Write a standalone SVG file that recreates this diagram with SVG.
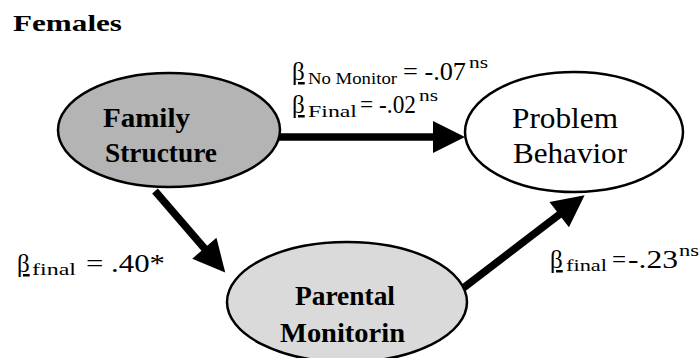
<svg xmlns="http://www.w3.org/2000/svg" width="700" height="358" viewBox="0 0 700 358">
<defs>
<marker id="ah" markerUnits="userSpaceOnUse" markerWidth="34" markerHeight="34" refX="1" refY="16" orient="auto" overflow="visible">
<path d="M0,0 L32,16 L0,32 Z" fill="#000"/>
</marker>
</defs>
<rect width="700" height="358" fill="#fff"/>
<text x="13" y="31" font-family="Liberation Serif" font-size="24" font-weight="bold" textLength="109" lengthAdjust="spacingAndGlyphs">Females</text>
<g id="connectors" stroke="#000" stroke-width="7.5" fill="none" marker-end="url(#ah)">
<line x1="279" y1="137" x2="434" y2="137"/>
<line x1="155" y1="191" x2="205" y2="249"/>
<line x1="462" y1="289" x2="560" y2="214"/>
</g>
<g id="family-structure" font-family="Liberation Serif" font-size="28" font-weight="bold">
<ellipse cx="169" cy="130" rx="111" ry="57" fill="#b4b4b4" stroke="#000" stroke-width="2.5"/>
<text x="103" y="127" textLength="87" lengthAdjust="spacingAndGlyphs">Family</text>
<text x="105" y="162" textLength="112" lengthAdjust="spacingAndGlyphs">Structure</text>
</g>
<g id="problem-behavior" font-family="Liberation Serif" font-size="30">
<ellipse cx="574" cy="132" rx="109" ry="60" fill="#fff" stroke="#000" stroke-width="2.5"/>
<text x="512" y="128" textLength="106" lengthAdjust="spacingAndGlyphs">Problem</text>
<text x="513" y="163" textLength="114" lengthAdjust="spacingAndGlyphs">Behavior</text>
</g>
<g id="parental-monitoring" font-family="Liberation Serif" font-size="28" font-weight="bold">
<ellipse cx="347" cy="302" rx="120" ry="60" fill="#dadada" stroke="#000" stroke-width="2.5"/>
<text x="295" y="305" textLength="100" lengthAdjust="spacingAndGlyphs">Parental</text>
<text x="280" y="342" textLength="125" lengthAdjust="spacingAndGlyphs">Monitorin</text>
</g>
<g id="labels" font-family="Liberation Serif" font-size="25">
<text x="292" y="80" text-decoration="underline">β</text>
<text x="308" y="84" font-size="17" textLength="89" lengthAdjust="spacingAndGlyphs">No Monitor</text>
<text x="403" y="80" textLength="63" lengthAdjust="spacingAndGlyphs">= -.07</text>
<text x="469" y="68" font-size="16" textLength="19" lengthAdjust="spacingAndGlyphs">ns</text>
<text x="292" y="113" text-decoration="underline">β</text>
<text x="308" y="117" font-size="17" textLength="49" lengthAdjust="spacingAndGlyphs">Final</text>
<text x="360" y="113" textLength="56" lengthAdjust="spacingAndGlyphs">= -.02</text>
<text x="419" y="101" font-size="16" textLength="19" lengthAdjust="spacingAndGlyphs">ns</text>
<text x="17" y="272" text-decoration="underline">β</text>
<text x="32" y="275" font-size="17" textLength="44" lengthAdjust="spacingAndGlyphs">final</text>
<text x="86" y="272" textLength="79" lengthAdjust="spacingAndGlyphs">= .40*</text>
<text x="550" y="268" text-decoration="underline">β</text>
<text x="566" y="271" font-size="17" textLength="41" lengthAdjust="spacingAndGlyphs">final</text>
<text x="612" y="268">=</text>
<text x="628" y="268" textLength="50" lengthAdjust="spacingAndGlyphs">-.23</text>
<text x="679" y="256" font-size="16" textLength="20" lengthAdjust="spacingAndGlyphs">ns</text>
</g>
</svg>
